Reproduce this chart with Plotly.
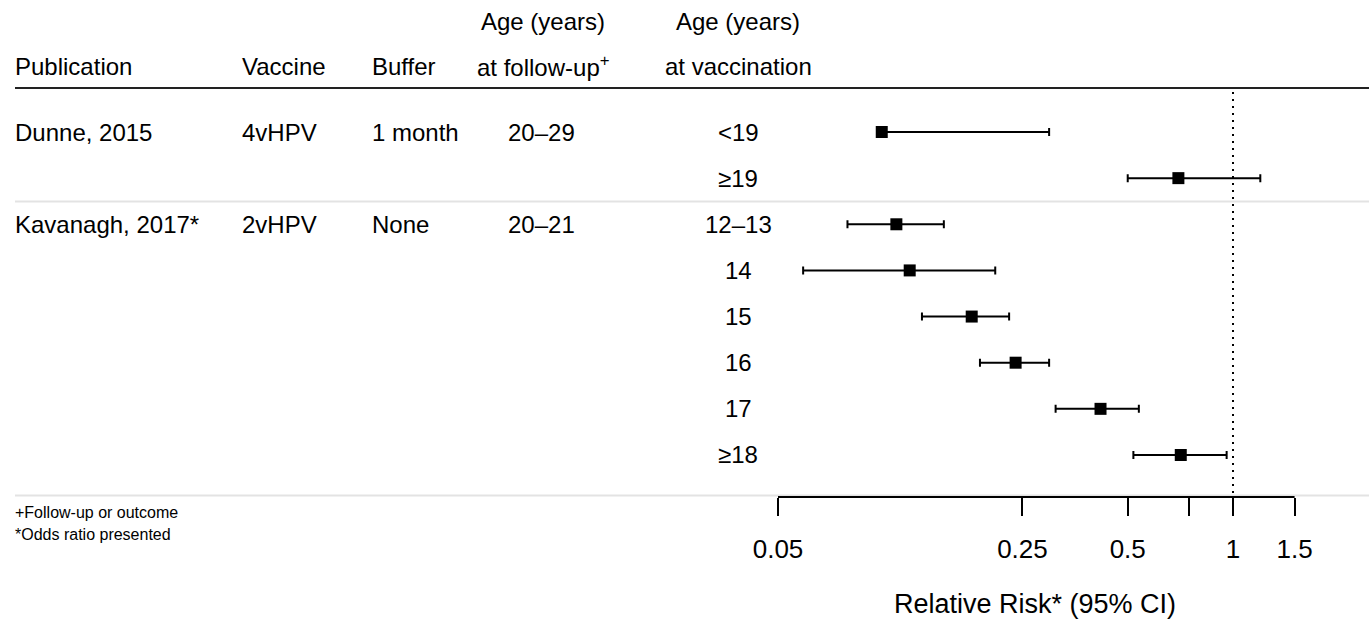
import plotly.graph_objects as go

W, H = 1369, 621

# ---- data ----
publications = ["Dunne, 2015", "", "Kavanagh, 2017*", "", "", "", "", ""]
vaccines = ["4vHPV", "", "2vHPV", "", "", "", "", ""]
buffers = ["1 month", "", "None", "", "", "", "", ""]
followup_ages = ["20–29", "", "20–21", "", "", "", "", ""]
vaccination_ages = ["<19", "≥19", "12–13", "14", "15", "16", "17", "≥18"]
estimates = [0.099, 0.698, 0.109, 0.119, 0.179, 0.239, 0.418, 0.709]
lower_ci = [0.098, 0.500, 0.079, 0.059, 0.129, 0.189, 0.311, 0.519]
upper_ci = [0.298, 1.197, 0.149, 0.209, 0.229, 0.298, 0.538, 0.959]

tick_vals = [0.05, 0.25, 0.5, 0.75, 1, 1.5]
tick_text = ["0.05", "0.25", "0.5", " ", "1", "1.5"]
axis_title = "Relative Risk* (95% CI)"
footnotes = ["+Follow-up or outcome", "*Odds ratio presented"]

# ---- layout helpers (pixel -> paper) ----
def px(x):
    return x / W

def py(y):
    return 1 - y / H

FONT = "Liberation Sans, Arial, sans-serif"
rows = list(range(len(estimates)))

fig = go.Figure()
fig.add_trace(go.Scatter(
    x=estimates, y=rows, mode="markers",
    marker=dict(symbol="square", size=12, color="black"),
    error_x=dict(type="data", symmetric=False,
                 array=[u - e for u, e in zip(upper_ci, estimates)],
                 arrayminus=[e - l for e, l in zip(estimates, lower_ci)],
                 color="black", thickness=2, width=4),
    hoverinfo="skip", showlegend=False,
))

annotations = []
def txt(x, y, s, size=24, anchor="left", yref="paper"):
    annotations.append(dict(x=x, y=y, xref="paper", yref=yref, text=s,
                            showarrow=False, xanchor=anchor, yanchor="middle",
                            borderpad=0,
                            font=dict(family=FONT, size=size, color="black")))

LX = 14  # left text column start (px)
# headers
txt(px(543), py(21), "Age (years)", anchor="center")
txt(px(738), py(21), "Age (years)", anchor="center")
txt(px(LX), py(66), "Publication")
txt(px(241), py(66), "Vaccine")
txt(px(371), py(66), "Buffer")
txt(px(543), py(66), "at follow-up<sup>+</sup>", anchor="center")
txt(px(738), py(66), "at vaccination", anchor="center")

# rows
for i in rows:
    if publications[i]:
        txt(px(LX), i, publications[i], yref="y")
    if vaccines[i]:
        txt(px(241), i, vaccines[i], yref="y")
    if buffers[i]:
        txt(px(371), i, buffers[i], yref="y")
    if followup_ages[i]:
        txt(px(541), i, followup_ages[i], anchor="center", yref="y")
    txt(px(738), i, vaccination_ages[i], anchor="center", yref="y")

# footnotes
txt(px(LX), py(512), footnotes[0], size=16)
txt(px(LX), py(534), footnotes[1], size=16)

# axis title
txt(px(1035), py(604), axis_title, size=27, anchor="center")

shapes = [
    dict(type="line", xref="paper", yref="paper", x0=px(15), x1=1,
         y0=py(88), y1=py(88), line=dict(color="#222222", width=2)),
    dict(type="line", xref="paper", yref="paper", x0=px(15), x1=1,
         y0=py(201.5), y1=py(201.5), line=dict(color="#e3e3e3", width=2)),
    dict(type="line", xref="paper", yref="paper", x0=px(15), x1=1,
         y0=py(495.5), y1=py(495.5), line=dict(color="#e3e3e3", width=2)),
    dict(type="line", xref="x", yref="paper", x0=tick_vals[0], x1=tick_vals[-1],
         y0=py(497), y1=py(497), line=dict(color="black", width=2)),
    dict(type="line", xref="x", yref="paper", x0=1, x1=1,
         y0=py(92), y1=py(497), line=dict(color="black", width=2, dash="2px,5px")),
]

# log axis calibrated: 0.05 -> 778px, 1 -> 1233px
ppd = (1233 - 778) / 1.30103
xr = [0 - 1233 / ppd, (W - 1233) / ppd]
row0, spacing, plot_bottom = 132, 46.14, 497
yr = [(plot_bottom - row0) / spacing, -row0 / spacing]

fig.update_layout(
    width=W, height=H, margin=dict(l=0, r=0, t=0, b=0),
    paper_bgcolor="white", plot_bgcolor="white",
    xaxis=dict(type="log", domain=[0, 1], range=xr, showgrid=False, zeroline=False,
               showline=False, tickmode="array", tickvals=tick_vals, ticktext=tick_text,
               ticks="outside", ticklen=18, tickwidth=2, tickcolor="black",
               tickfont=dict(family=FONT, size=26, color="black"),
               ticklabelstandoff=11),
    yaxis=dict(domain=[py(plot_bottom), 1], range=yr, visible=False),
    annotations=annotations, shapes=shapes,
)

fig.write_html("out.html")
